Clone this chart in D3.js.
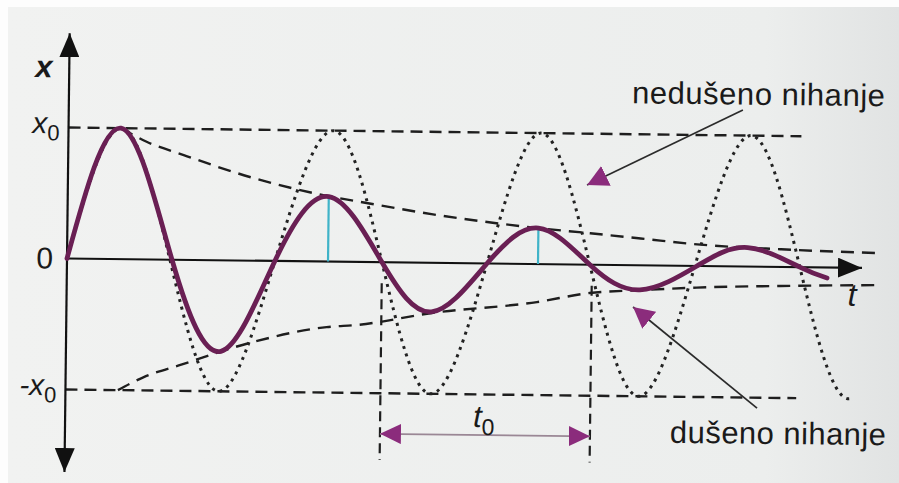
<!DOCTYPE html>
<html>
<head>
<meta charset="utf-8">
<script src="https://cdn.jsdelivr.net/npm/d3@7"></script>
<style>
  html, body { margin: 0; padding: 0; background: #ffffff; }
  svg { display: block; }
  text { font-family: "Liberation Sans", Arial, sans-serif; fill: #1a1a1a; }
</style>
</head>
<body>
<svg id="chart" width="899" height="483"></svg>
<script>
// Time is measured in periods (t0 = 1), displacement in units of the amplitude x0.

// Damped oscillation: extrema and zero crossings of x(t)
const dampedT = [0, 0.25, 0.5, 0.738, 0.99, 1.243, 1.5, 1.738, 2.0, 2.243, 2.49, 2.73, 3.0, 3.24, 3.49, 3.62];
const dampedX = [0, 1.0, 0, -0.695, 0, 0.496, 0, -0.374, 0, 0.275, 0, -0.187, 0, 0.145, 0, -0.08];

// Undamped oscillation with the same period
const freeT = [0, 0.25, 0.49, 0.73, 0.99, 1.26, 1.5, 1.74, 2.0, 2.25, 2.49, 2.73, 2.99, 3.25, 3.49, 3.73, 3.98];
const freeX = [0, 1, 0, -1, 0, 1, 0, -1, 0, 1, 0, -1, 0, 1, 0, -1, 0];
const freeEnd = 3.75;

// Decaying amplitude envelope
const envT     = [0.25, 0.37, 0.55, 0.87, 1.24, 1.39, 1.74, 2.24, 2.49, 2.73, 3.0, 3.4, 3.85];
const envUpper = [1.0, 0.9, 0.80, 0.637, 0.50, 0.46, 0.37, 0.275, 0.24, 0.205, 0.165, 0.135, 0.115];
const envLower = [-1.0, -0.9, -0.80, -0.63, -0.50, -0.48, -0.383, -0.29, -0.216, -0.19, -0.165, -0.145, -0.13];

// Amplitude markers drawn at two of the damped maxima
const markT = [1.243, 2.243];
const markX = [0.496, 0.275];

// Reference levels and their labels
const levelX = [1, 0, -1];
const levelLabels = [["x", "0"], ["0", ""], ["-x", "0"]];
const levelEndT = [3.49, null, 3.48];

// Period bracket
const periodStart = 1.5, periodEnd = 2.5;
const periodArrowX = -1.31, periodLineTop = -0.16, periodLineBottom = -1.51;

// Axis extents
const axisT = [0, 3.786];
const axisX = [-1.63, 1.72];

// Pointer annotations: [from, to] in (t, x)
const pointers = [
  { text: "nedušeno nihanje", from: [3.21, 1.195], to: [2.472, 0.608] },
  { text: "dušeno nihanje",   from: [3.294, -1.079], to: [2.698, -0.319] }
];

const svg = d3.select("#chart");
const W = 899, H = 483;

// Paper background
const defs = svg.append("defs");
const bg = defs.append("linearGradient").attr("id", "paper").attr("x1", 0).attr("x2", 1).attr("y1", 0).attr("y2", 0);
bg.append("stop").attr("offset", "0%").attr("stop-color", "#f1f2f1");
bg.append("stop").attr("offset", "85%").attr("stop-color", "#eceeed");
bg.append("stop").attr("offset", "100%").attr("stop-color", "#e1e3e3");
svg.append("rect").attr("width", W).attr("height", H).attr("fill", "#fdfdfd");
svg.append("rect").attr("x", 8).attr("y", 7).attr("width", W - 8).attr("height", H - 7).attr("fill", "url(#paper)");

// Arrowheads
function marker(id, w, h, fill) {
  defs.append("marker")
    .attr("id", id).attr("markerUnits", "userSpaceOnUse")
    .attr("viewBox", `0 ${-h / 2} ${w} ${h}`)
    .attr("refX", w).attr("refY", 0)
    .attr("markerWidth", w).attr("markerHeight", h)
    .attr("orient", "auto-start-reverse")
    .append("path").attr("d", `M0,${-h / 2}L${w},0L0,${h / 2}Z`).attr("fill", fill);
}
marker("axisHead", 24, 20, "#111");
marker("periodHead", 21, 20, "#8b2c7c");
marker("pointerHead", 21, 22, "#8b2c7c");

const g = svg.append("g").attr("transform", "translate(67,258.5) rotate(0.68)");

const x = d3.scaleLinear().domain([0, 1]).range([0, 210]);
const y = d3.scaleLinear().domain([0, 1]).range([0, -131]);

const lineNatural = d3.line().x(d => x(d[0])).y(d => y(d[1])).curve(d3.curveNatural);
const lineMono = d3.line().x(d => x(d[0])).y(d => y(d[1])).curve(d3.curveMonotoneX);
const zip = (a, b) => a.map((v, i) => [v, b[i]]);

// Reference levels ±x0
levelX.forEach((v, i) => {
  if (levelEndT[i] === null) return;
  g.append("line")
    .attr("x1", x(0)).attr("x2", x(levelEndT[i]))
    .attr("y1", y(v)).attr("y2", y(v))
    .attr("stroke", "#1e1e1e").attr("stroke-width", 2.4).attr("stroke-dasharray", "12,7");
});

// Envelope
[envUpper, envLower].forEach(env => {
  g.append("path").attr("d", lineMono(zip(envT, env)))
    .attr("fill", "none").attr("stroke", "#1e1e1e").attr("stroke-width", 2.4)
    .attr("stroke-dasharray", "13,8");
});

// Undamped oscillation (dotted)
defs.append("clipPath").attr("id", "freeClip")
  .append("rect").attr("x", x(0) - 5).attr("y", y(1.3))
  .attr("width", x(freeEnd) - x(0) + 5).attr("height", y(-1.3) - y(1.3));
g.append("path").attr("d", lineNatural(zip(freeT, freeX)))
  .attr("clip-path", "url(#freeClip)")
  .attr("fill", "none").attr("stroke", "#222").attr("stroke-width", 3)
  .attr("stroke-dasharray", "3,5");

// Period bracket lines
[periodStart, periodEnd].forEach(t => {
  g.append("line")
    .attr("x1", x(t)).attr("x2", x(t))
    .attr("y1", y(periodLineTop)).attr("y2", y(periodLineBottom))
    .attr("stroke", "#1e1e1e").attr("stroke-width", 2.2).attr("stroke-dasharray", "10,6");
});
g.append("line")
  .attr("x1", x(periodStart)).attr("x2", x(periodEnd))
  .attr("y1", y(periodArrowX)).attr("y2", y(periodArrowX))
  .attr("stroke", "#9a8795").attr("stroke-width", 1.6)
  .attr("marker-start", "url(#periodHead)").attr("marker-end", "url(#periodHead)");
const tl = g.append("text")
  .attr("x", x((periodStart + periodEnd) / 2) - 12).attr("y", y(periodArrowX) - 8)
  .attr("font-size", 31).attr("font-style", "italic");
tl.append("tspan").text("t");
tl.append("tspan").text("0").attr("font-size", 23).attr("font-style", "normal").attr("dy", 8);

// Axes
g.append("line").attr("x1", x(axisT[0])).attr("x2", x(axisT[1])).attr("y1", y(0)).attr("y2", y(0))
  .attr("stroke", "#111").attr("stroke-width", 2.2).attr("marker-end", "url(#axisHead)");
g.append("line").attr("x1", x(0)).attr("x2", x(0)).attr("y1", y(axisX[0])).attr("y2", y(axisX[1]))
  .attr("stroke", "#111").attr("stroke-width", 2.2)
  .attr("marker-start", "url(#axisHead)").attr("marker-end", "url(#axisHead)");

// Amplitude markers
markT.forEach((t, i) => {
  g.append("line").attr("x1", x(t)).attr("x2", x(t)).attr("y1", y(0)).attr("y2", y(markX[i]))
    .attr("stroke", "#3fb3c8").attr("stroke-width", 2.2);
});

// Damped oscillation
g.append("path").attr("d", lineNatural(zip(dampedT, dampedX)))
  .attr("fill", "none").attr("stroke", "#6a1f54").attr("stroke-width", 4.8)
  .attr("stroke-linecap", "round");

// Axis and level labels
g.append("text").attr("x", -34).attr("y", -181).attr("font-size", 31)
  .attr("font-style", "italic").attr("font-weight", "bold").text("x");
g.append("text").attr("x", x(axisT[1]) - 14).attr("y", 38).attr("font-size", 32)
  .attr("font-style", "italic").text("t");

const offsets = [-9, -14, -9];
levelX.forEach((v, i) => {
  const t = g.append("text").attr("text-anchor", "end")
    .attr("x", x(0) + offsets[i]).attr("y", y(v) + (v === 0 ? 10 : 6))
    .attr("font-size", 30);
  const [main, sub] = levelLabels[i];
  if (sub) {
    t.append("tspan").text(main).attr("font-style", "italic");
    t.append("tspan").text(sub).attr("font-size", 22).attr("dy", 7);
  } else {
    t.text(main);
  }
});

// Pointer annotations
pointers.forEach(p => {
  g.append("line")
    .attr("x1", x(p.from[0])).attr("y1", y(p.from[1]))
    .attr("x2", x(p.to[0])).attr("y2", y(p.to[1]))
    .attr("stroke", "#2b2b2b").attr("stroke-width", 1.7)
    .attr("marker-end", "url(#pointerHead)");
});
g.append("text").attr("x", 563).attr("y", -162).attr("font-size", 31)
  .attr("textLength", 253).attr("lengthAdjust", "spacing").text(pointers[0].text);
g.append("text").attr("x", 605).attr("y", 177).attr("font-size", 31)
  .attr("textLength", 216).attr("lengthAdjust", "spacing").text(pointers[1].text);
</script>
</body>
</html>
